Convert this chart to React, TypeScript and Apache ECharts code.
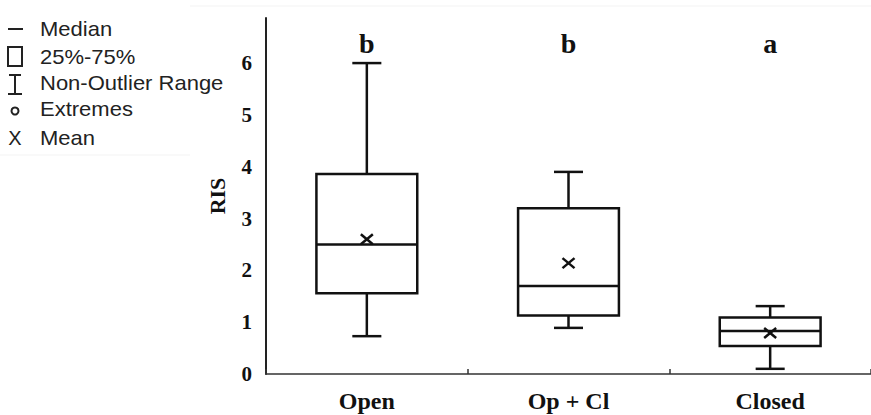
import React, { useEffect, useRef } from "react";
import * as echarts from "echarts";

const categories = ["Open", "Op + Cl", "Closed"];
const whiskerLow = [0.73, 0.89, 0.1];
const q1 = [1.56, 1.13, 0.54];
const median = [2.5, 1.7, 0.83];
const q3 = [3.86, 3.2, 1.09];
const whiskerHigh = [6.0, 3.9, 1.31];
const mean = [2.6, 2.14, 0.79];
const sigLetters = ["b", "b", "a"];
const yMin = 0;
const yMax = 6.87;
const yInterval = 1;
const legendLabels = ["Median", "25%-75%", "Non-Outlier Range", "Extremes", "Mean"];

const SERIF = '"Liberation Serif", "Times New Roman", serif';
const SANS = '"Liberation Sans", Arial, sans-serif';

export default function App() {
  const ref = useRef<HTMLDivElement>(null);
  useEffect(() => {
    if (!ref.current) return;
    const chart = echarts.init(ref.current, null, { renderer: "svg" });
    const data = categories.map((_, i) => [
      i,
      whiskerLow[i],
      q1[i],
      median[i],
      q3[i],
      whiskerHigh[i],
      mean[i],
    ]);
    const stroke = "#111";
    const lw = 2.5;
    const legendY = [29, 57, 83, 109, 138];
    const ls = { stroke: "#222", lineWidth: 2 };
    const legendGraphics: any[] = [
      { type: "line", shape: { x1: 8, y1: 29, x2: 23, y2: 29 }, style: ls },
      { type: "rect", shape: { x: 8, y: 47, width: 14, height: 19 }, style: { ...ls, fill: "none" } },
      { type: "line", shape: { x1: 15, y1: 75, x2: 15, y2: 94 }, style: ls },
      { type: "line", shape: { x1: 9, y1: 75, x2: 21, y2: 75 }, style: ls },
      { type: "line", shape: { x1: 8, y1: 94, x2: 22, y2: 94 }, style: ls },
      { type: "circle", shape: { cx: 15, cy: 111, r: 3.5 }, style: { ...ls, fill: "none" } },
      {
        type: "text",
        x: 15,
        y: 138,
        style: { text: "X", fill: "#222", font: `20px ${SANS}`, align: "center", verticalAlign: "middle", textAlign: "center", textVerticalAlign: "middle" },
      },
      ...legendLabels.map((t, k) => ({
        type: "text",
        x: 40,
        y: legendY[k],
        scaleX: 1.1,
        style: { text: t, fill: "#222", font: `20px ${SANS}`, align: "left", verticalAlign: "middle", textAlign: "left", textVerticalAlign: "middle" },
      })),
      { type: "line", shape: { x1: 190, y1: 6, x2: 871, y2: 6 }, style: { stroke: "#f3f3f3", lineWidth: 1 } },
      { type: "line", shape: { x1: 0, y1: 155, x2: 190, y2: 155 }, style: { stroke: "#f3f3f3", lineWidth: 1 } },
    ];

    chart.setOption({
      animation: false,
      backgroundColor: "#fff",
      grid: { left: 266, right: 0, top: 18, bottom: 41, containLabel: false },
      xAxis: {
        type: "category",
        data: categories,
        boundaryGap: true,
        axisLine: { lineStyle: { color: "#333", width: 1.5 } },
        axisTick: { show: true, inside: true, length: 5, lineStyle: { color: "#333", width: 1.5 } },
        axisLabel: { color: "#111", fontFamily: SERIF, fontWeight: "bold", fontSize: 24, margin: 15 },
      },
      yAxis: {
        type: "value",
        min: yMin,
        max: yMax,
        interval: yInterval,
        name: "RIS",
        nameLocation: "middle",
        nameGap: 38,
        nameRotate: 90,
        nameTextStyle: { color: "#111", fontFamily: SERIF, fontWeight: "bold", fontSize: 22 },
        axisLine: { show: true, lineStyle: { color: "#222", width: 2 } },
        axisTick: { show: false },
        splitLine: { show: false },
        axisLabel: {
          color: "#111",
          fontFamily: SERIF,
          fontWeight: "bold",
          fontSize: 21,
          margin: 14,
          formatter: (v: number) => (Math.abs(v - Math.round(v)) < 1e-6 ? String(Math.round(v)) : ""),
        },
      },
      graphic: legendGraphics,
      series: [
        {
          type: "custom",
          data,
          encode: { x: 0, y: [1, 2, 3, 4, 5, 6] },
          renderItem: (params: any, api: any) => {
            const i = api.value(0);
            const cs = params.coordSys;
            const band = api.size([1, 0])[0];
            const half = band * 0.25;
            const cap = band * 0.072;
            const cx = api.coord([i, api.value(1)])[0];
            const yLo = api.coord([i, api.value(1)])[1];
            const yQ1 = api.coord([i, api.value(2)])[1];
            const yMed = api.coord([i, api.value(3)])[1];
            const yQ3 = api.coord([i, api.value(4)])[1];
            const yHi = api.coord([i, api.value(5)])[1];
            const yMean = api.coord([i, api.value(6)])[1];
            const st = { stroke, lineWidth: lw, fill: "none" };
            return {
              type: "group",
              children: [
                { type: "line", shape: { x1: cx, y1: yHi, x2: cx, y2: yQ3 }, style: st },
                { type: "line", shape: { x1: cx - cap, y1: yHi, x2: cx + cap, y2: yHi }, style: st },
                { type: "line", shape: { x1: cx, y1: yQ1, x2: cx, y2: yLo }, style: st },
                { type: "line", shape: { x1: cx - cap, y1: yLo, x2: cx + cap, y2: yLo }, style: st },
                { type: "rect", shape: { x: cx - half, y: yQ3, width: 2 * half, height: yQ1 - yQ3 }, style: { stroke, lineWidth: lw, fill: "#fff" } },
                { type: "line", shape: { x1: cx - half, y1: yMed, x2: cx + half, y2: yMed }, style: st },
                { type: "line", shape: { x1: cx - 6, y1: yMean - 5, x2: cx + 6, y2: yMean + 5 }, style: { stroke, lineWidth: 2.5 } },
                { type: "line", shape: { x1: cx - 6, y1: yMean + 5, x2: cx + 6, y2: yMean - 5 }, style: { stroke, lineWidth: 2.5 } },
                {
                  type: "text",
                  x: cx,
                  y: cs.y + 25,
                  style: {
                    text: sigLetters[params.dataIndex],
                    fill: "#111",
                    font: `bold 28px ${SERIF}`,
                    align: "center",
                    verticalAlign: "middle",
                    textAlign: "center",
                    textVerticalAlign: "middle",
                  },
                },
              ],
            };
          },
        },
      ],
    });
    return () => chart.dispose();
  }, []);
  return <div ref={ref} style={{ position: "absolute", left: 0, top: 0, width: 871, height: 415 }} />;
}
